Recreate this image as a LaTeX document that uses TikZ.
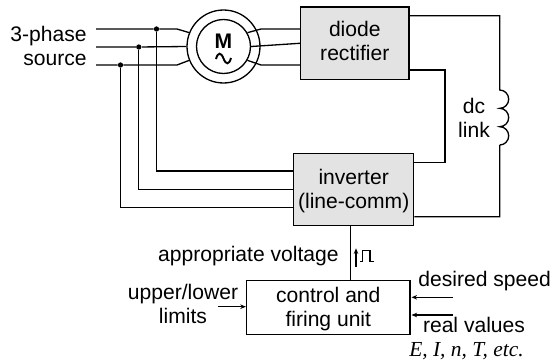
\documentclass[tikz,border=0pt]{standalone}
\usepackage{fontspec}
\usetikzlibrary{arrows.meta}
\setmainfont{Liberation Sans}
\newfontfamily\timesit[ItalicFont=Liberation Serif Italic]{Liberation Serif}
\tikzset{
    wire/.style={line width=0.75pt},
    arrowwire/.style={line width=0.6pt,-{Stealth[length=3.2pt,width=2.6pt]}},
    lbl/.style={font=\fontsize{12}{13.7}\selectfont,align=center,inner sep=0pt},
    greybox/.style={draw,line width=0.8pt,fill=black!11,font=\fontsize{12}{13.7}\selectfont,align=center,inner sep=0pt},
    whitebox/.style={draw,line width=0.75pt,font=\fontsize{12}{13.7}\selectfont,align=center,inner sep=0pt},
    dot/.style={circle,fill=black,inner sep=0pt,minimum size=3pt},
}
\begin{document}
\begin{tikzpicture}[x=0.02cm,y=-0.02cm]
    \useasboundingbox (0,0) rectangle (555,362);
    % blocks
    \node[greybox,minimum width=2.17cm,minimum height=1.45cm] (rectifier) at (354.8,43.3) {\strut diode\\\strut rectifier};
    \node[greybox,minimum width=2.4cm,minimum height=1.45cm] (inverter) at (353.7,189.5) {\rule{0pt}{12.4pt}inverter\\\strut (line-comm)};
    \node[whitebox,minimum width=3.27cm,minimum height=1.09cm] (control) at (328.3,307.5) {\rule{0pt}{11.8pt}control and\\\strut firing unit};
    % motor
    \node[circle,draw,wire,minimum size=1.46cm,inner sep=0pt] (motorout) at (223.5,46.5) {};
    \node[circle,draw,wire,minimum size=1.08cm,inner sep=0pt] (motorin) at (223.5,46.5) {};
    \node[font=\fontsize{12}{13}\selectfont\bfseries,inner sep=0pt] (motorm) at (223.5,41) {M};
    \draw[line width=1.1pt] (216,59) .. controls (218,52) and (221,52) .. (223.5,58.5) .. controls (226,65) and (229,65) .. (231,58);
    % 3-phase lines
    \node[lbl,align=right,anchor=east] (source) at (87,48.6) {\strut 3-phase\\\strut source};
    \node[dot] (ja) at (156.5,29) {};
    \node[dot] (jb) at (138.8,47) {};
    \node[dot] (jc) at (120.5,65) {};
    \coordinate (sa) at (96,29);
    \coordinate (sb) at (96,47);
    \coordinate (sc) at (96,65);
    \coordinate (ka) at (177,29);
    \coordinate (kc) at (177,65);
    \draw[wire] (sa) -- (ja) -- (ka) -- (motorout.158);
    \draw[wire] (sb) -- (jb) -- (motorout.west);
    \draw[wire] (sc) -- (jc) -- (kc) -- (motorout.202);
    % motor to rectifier
    \coordinate (ra) at (261,29);
    \coordinate (rc) at (261,65);
    \draw[wire] (motorin.30) -- (ra) -- (rectifier.west |- ra);
    \draw[wire] (motorin.east) -- (rectifier.west);
    \draw[wire] (motorin.-30) -- (rc) -- (rectifier.west |- rc);
    % feedback to inverter
    \coordinate (ia) at (293.7,171);
    \coordinate (ib) at (293.7,189.7);
    \coordinate (ic) at (293.7,207.5);
    \draw[wire] (ja) |- (ia);
    \draw[wire] (jb) |- (ib);
    \draw[wire] (jc) |- (ic);
    % dc link
    \coordinate (toplink) at (499.7,15.7);
    \coordinate (coiltop) at (499.7,90);
    \coordinate (coilbot) at (499.7,145);
    \coordinate (botlink) at (499.7,216.7);
    \draw[wire] (rectifier.east |- toplink) -- (toplink) -- (coiltop)
        arc[start angle=-90,end angle=90,x radius=9,y radius=9.17]
        arc[start angle=-90,end angle=90,x radius=9,y radius=9.17]
        arc[start angle=-90,end angle=90,x radius=9,y radius=9.17]
        -- (coilbot) -- (botlink) -- (inverter.east |- botlink);
    \coordinate (shorta) at (445,70);
    \coordinate (shortb) at (445,162.3);
    \draw[wire] (rectifier.east |- shorta) -- (shorta) -- (shortb) -- (inverter.east |- shortb);
    \node[lbl] (dclink) at (474,120.5) {\strut dc\\\strut link};
    % gate signal
    \coordinate (gate) at (350.7,225.7);
    \draw[wire] (gate) -- (control.north -| gate);
    \node[lbl,anchor=base east] (voltage) at (339,261.7) {appropriate voltage};
    \coordinate (pa) at (356,266.7);
    \coordinate (pb) at (356,248.3);
    \draw[arrowwire] (pa) -- (pb);
    \draw[line width=0.6pt] (360,261.7) -- (362.7,261.7) -- (362.7,250.7) -- (370,250.7) -- (370,261.7) -- (374,261.7);
    % control inputs
    \node[lbl] (limits) at (183,307) {\strut upper/lower\\\strut limits};
    \coordinate (la) at (218.3,306.7);
    \draw[arrowwire] (la) -- (control.west |- la);
    \node[lbl,anchor=base west] (speed) at (418,286) {desired speed};
    \coordinate (da) at (453,297.3);
    \coordinate (db) at (411.5,297.3);
    \draw[arrowwire] (da) -- (db);
    \coordinate (va) at (453,315);
    \coordinate (vb) at (411.5,315);
    \draw[arrowwire] (va) -- (vb);
    \node[lbl,anchor=base] (values) at (474,332.7) {real values};
    \node[anchor=base,inner sep=0pt,font=\timesit\itshape\fontsize{12.2}{14}\selectfont] (quantities) at (466.5,356.7) {E, I, n, T, etc.};
\end{tikzpicture}
\end{document}
